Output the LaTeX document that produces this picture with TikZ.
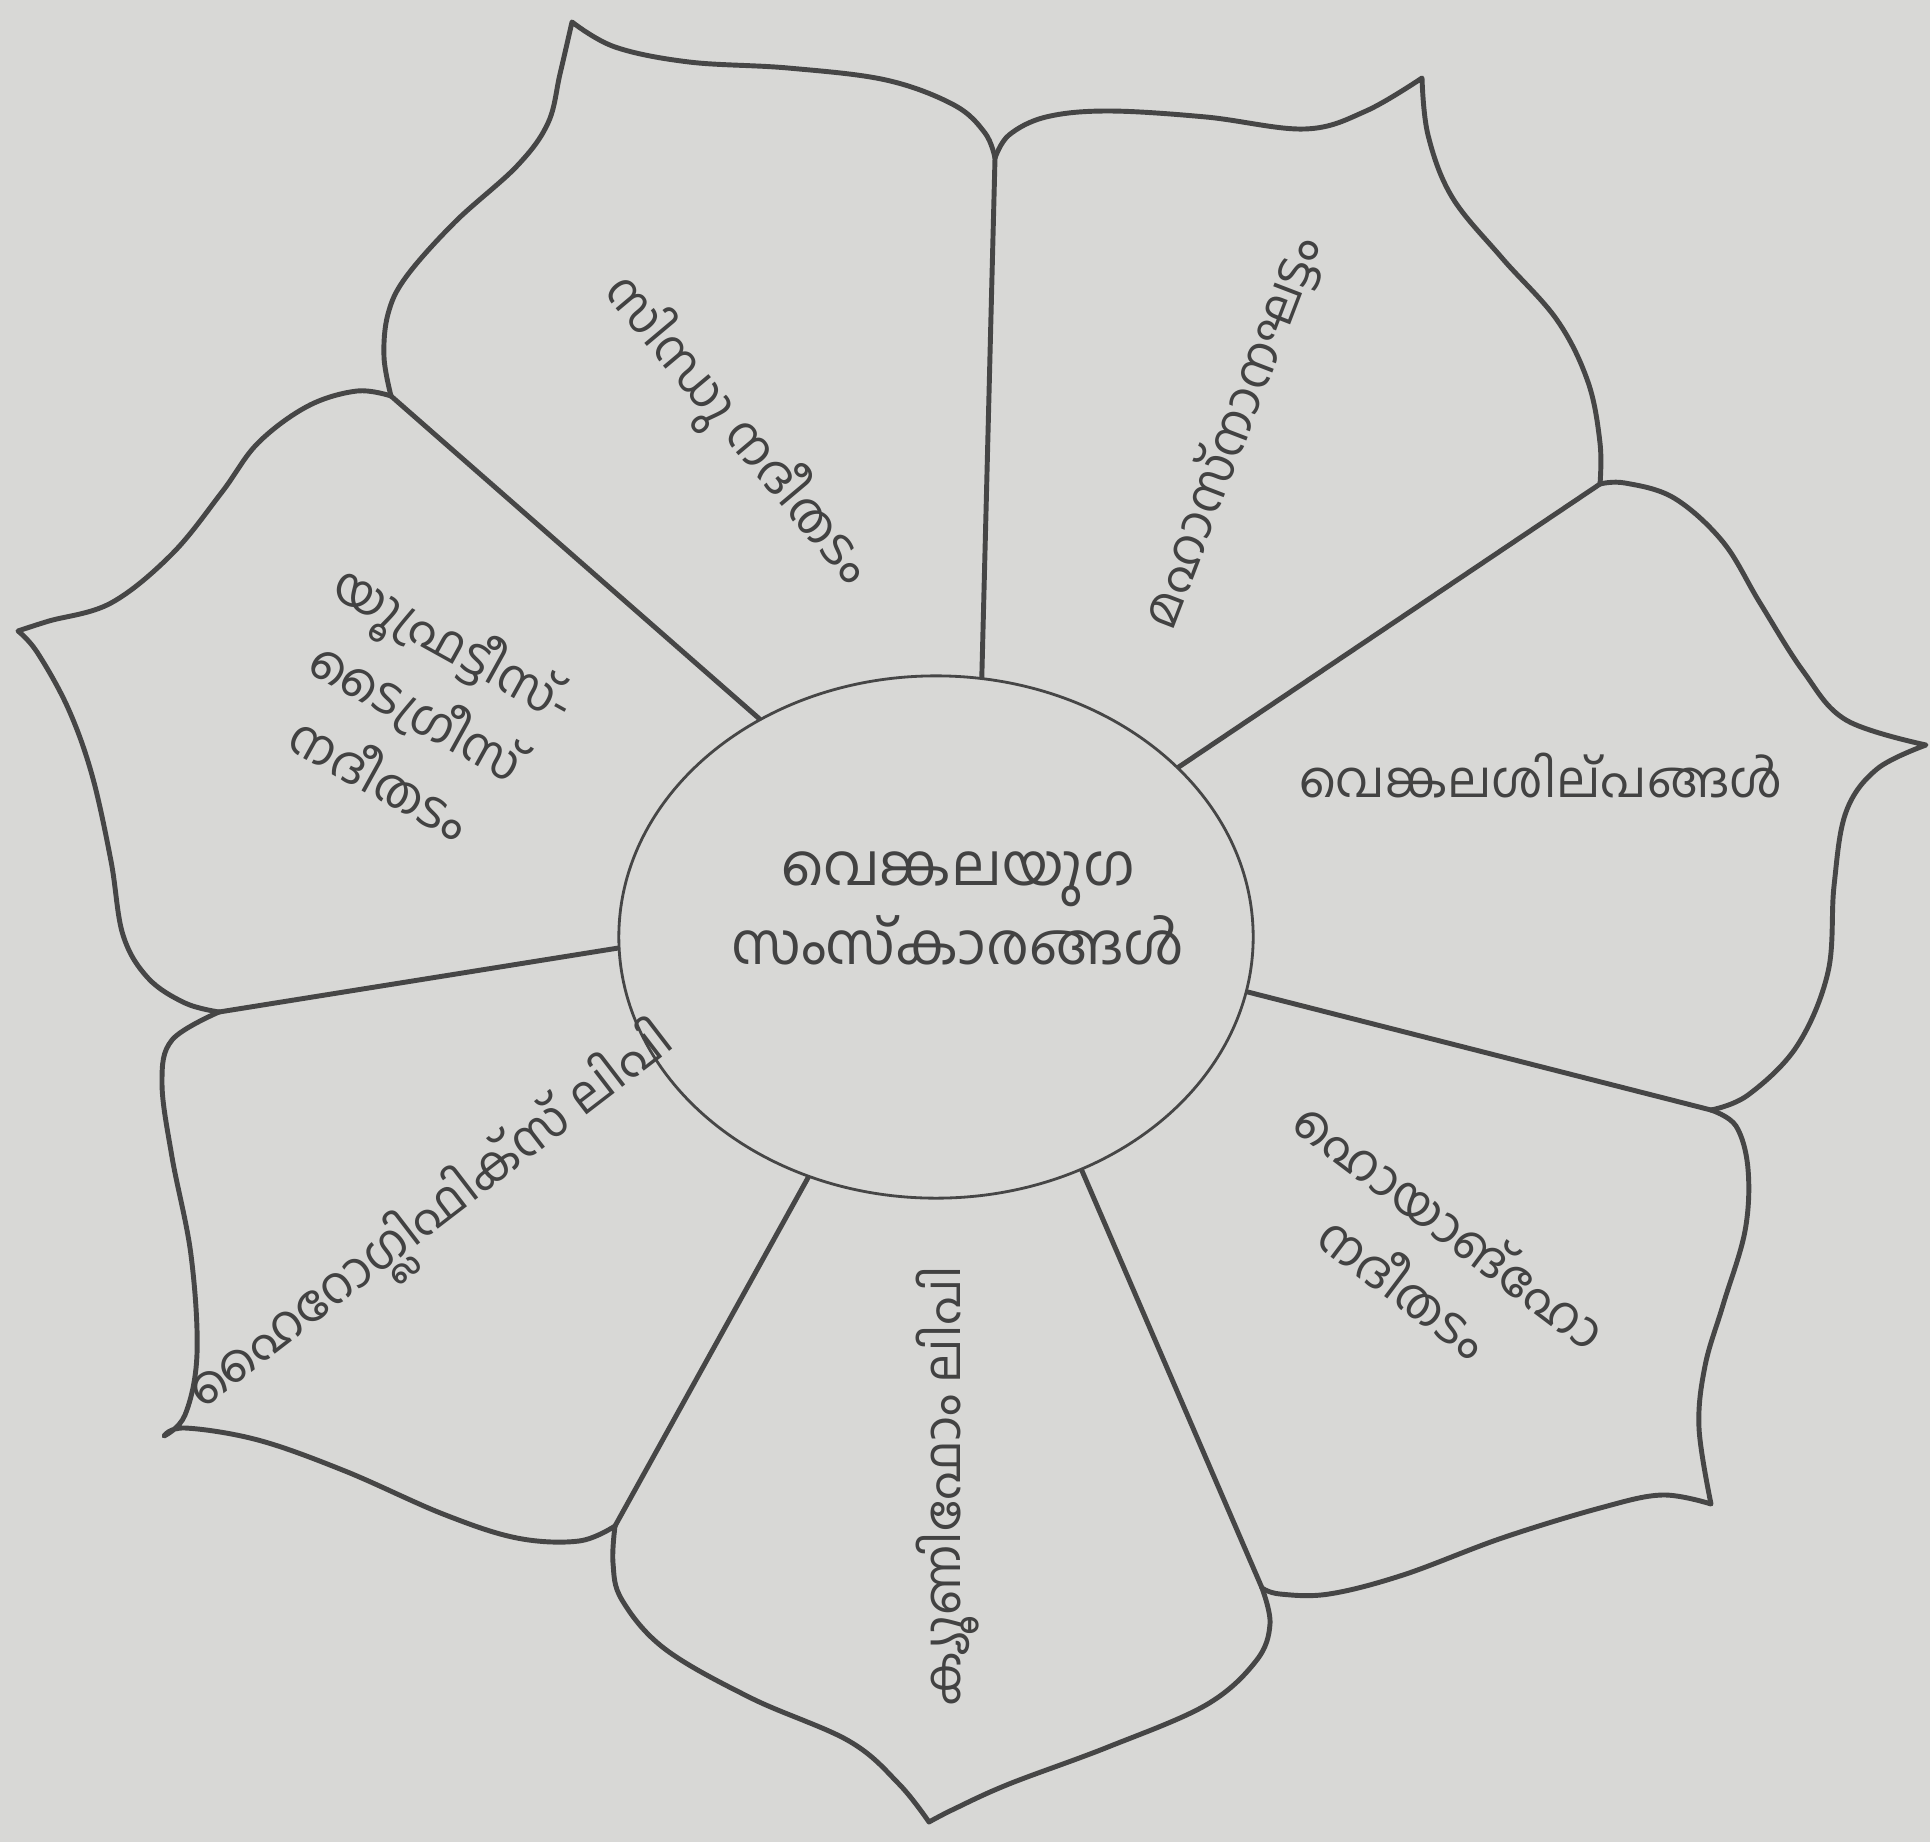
\documentclass[tikz,border=0pt]{standalone}
\usepackage{fontspec}
\newfontfamily\mal[Script=Malayalam]{Hind Kochi}
\usetikzlibrary{shapes.geometric}
\definecolor{paper}{RGB}{216,216,214}
\definecolor{ink}{RGB}{70,70,70}
\definecolor{txt}{RGB}{66,66,66}
\begin{document}
\begin{tikzpicture}[x=0.01cm,y=-0.01cm,
 petal/.style={draw=ink, line width=1.4pt, line join=round, line cap=round},
 divider/.style={draw=ink, line width=1.4pt, line cap=round},
 hubstyle/.style={ellipse, draw=ink, line width=0.8pt, minimum width=6.34cm, minimum height=5.22cm, inner sep=0pt},
 lbl/.style={font=\mal\fontsize{14.3}{22}\selectfont, text=txt, align=center, inner sep=0pt},
 hublbl/.style={font=\mal\fontsize{16.4}{22.5}\selectfont, text=txt, align=center, inner sep=0pt}]
\fill[paper] (0,0) rectangle (1930,1842);
\useasboundingbox (0,0) rectangle (1930,1842);

% junctions and tips
\coordinate (jA) at (995,158);
\coordinate (jB) at (1600,484);
\coordinate (jC) at (1711,1110);
\coordinate (jD) at (1262,1588);
\coordinate (jE) at (615,1526);
\coordinate (jF) at (219,1012);
\coordinate (jG) at (391,396);
\coordinate (t1) at (572,22);
\coordinate (t2) at (1422,78);
\coordinate (t3) at (1926,745);
\coordinate (t4) at (1711,1504);
\coordinate (t5) at (929,1822);
\coordinate (t6) at (164,1436);
\coordinate (t7) at (18,631);

% centre
\node[hubstyle] (hub) at (936,937) {};
\node[hublbl] (hubtext) at (958,908) {വെങ്കലയുഗ\\സംസ്കാരങ്ങൾ};

% dividers
\draw[divider] (hub.80) -- (jA);
\draw[divider] (hub.35) -- (jB);
\draw[divider] (hub.-10) -- (jC);
\draw[divider] (hub.-58) -- (jD);
\draw[divider] (hub.-118) -- (jE);
\draw[divider] (hub.182) -- (jF);
\draw[divider] (hub.129) -- (jG);

% petal 1 (top-left)
\draw[petal] (jG) -- plot[smooth,tension=0.6] coordinates {(jG) (384,357) (388,314) (406,277) (455,222) (517,166) (548,123) (560,74) (t1)}
 -- plot[smooth,tension=0.6] coordinates {(t1) (615,47) (689,62) (788,68) (886,80) (954,105) (985,133) (jA)};
% petal 2 (top-right)
\draw[petal] (jA) -- plot[smooth,tension=0.6] coordinates {(jA) (1009,135) (1046,117) (1108,111) (1206,117) (1305,129) (1366,111) (t2)}
 -- plot[smooth,tension=0.6] coordinates {(t2) (1428,135) (1452,197) (1502,258) (1557,320) (1588,382) (1600,443) (jB)};
% petal 3 (right)
\draw[petal] (jB) -- plot[smooth,tension=0.6] coordinates {(jB) (1625,483) (1674,498) (1723,542) (1760,603) (1803,671) (1846,720) (t3)}
 -- plot[smooth,tension=0.6] coordinates {(t3) (1877,769) (1846,812) (1834,886) (1828,972) (1797,1046) (1748,1095) (jC)};
% petal 4 (lower right)
\draw[petal] (jC) -- plot[smooth,tension=0.6] coordinates {(jC) (1736,1126) (1748,1169) (1745,1231) (1723,1305) (1705,1366) (1699,1428) (t4)}
 -- plot[smooth,tension=0.6] coordinates {(t4) (1662,1495) (1600,1508) (1502,1538) (1403,1575) (1329,1594) (1280,1594) (jD)};
% petal 5 (bottom)
\draw[petal] (jD) -- plot[smooth,tension=0.6] coordinates {(jD) (1270,1624) (1256,1661) (1206,1705) (1108,1747) (1009,1784) (954,1809) (t5)}
 -- plot[smooth,tension=0.6] coordinates {(t5) (899,1784) (849,1741) (751,1698) (665,1649) (622,1600) (613,1563) (jE)};
% petal 6 (lower left)
\draw[petal] (jE) -- plot[smooth,tension=0.6] coordinates {(jE) (579,1541) (517,1538) (443,1514) (345,1471) (258,1440) (185,1428) (t6)}
 -- plot[smooth,tension=0.6] coordinates {(t6) (185,1415) (197,1354) (191,1255) (172,1157) (162,1083) (172,1040) (jF)};
% petal 7 (left)
\draw[petal] (jF) -- plot[smooth,tension=0.6] coordinates {(jF) (185,1003) (148,978) (123,935) (111,861) (92,775) (68,708) (37,652) (t7)}
 -- plot[smooth,tension=0.6] coordinates {(t7) (49,621) (111,603) (172,554) (222,492) (258,443) (308,406) (357,391) (jG)};

% labels
\node[lbl, rotate=-50] (l1) at (736,431) {സിന്ധു നദീതടം};
\node[lbl, rotate=69] (l2) at (1233,433) {മഹാസ്നാനഘട്ടം};
\node[lbl] (l3) at (1541,775) {വെങ്കലശില്പങ്ങൾ};
\node[lbl, rotate=-37] (l4) at (1428,1255) {ഹൊയാങ്ഹോ\\നദീതടം};
\node[lbl, rotate=90] (l5) at (948,1486) {ക്യൂണിഫോം ലിപി};
\node[lbl, rotate=37.5] (l6) at (433,1219) {ഹൈറോഗ്ലിഫിക്സ് ലിപി};
\node[lbl, rotate=-29] (l7) at (419,708) {യൂഫ്രട്ടീസ്-\\ടൈഗ്രീസ്\\നദീതടം};
\end{tikzpicture}
\end{document}
